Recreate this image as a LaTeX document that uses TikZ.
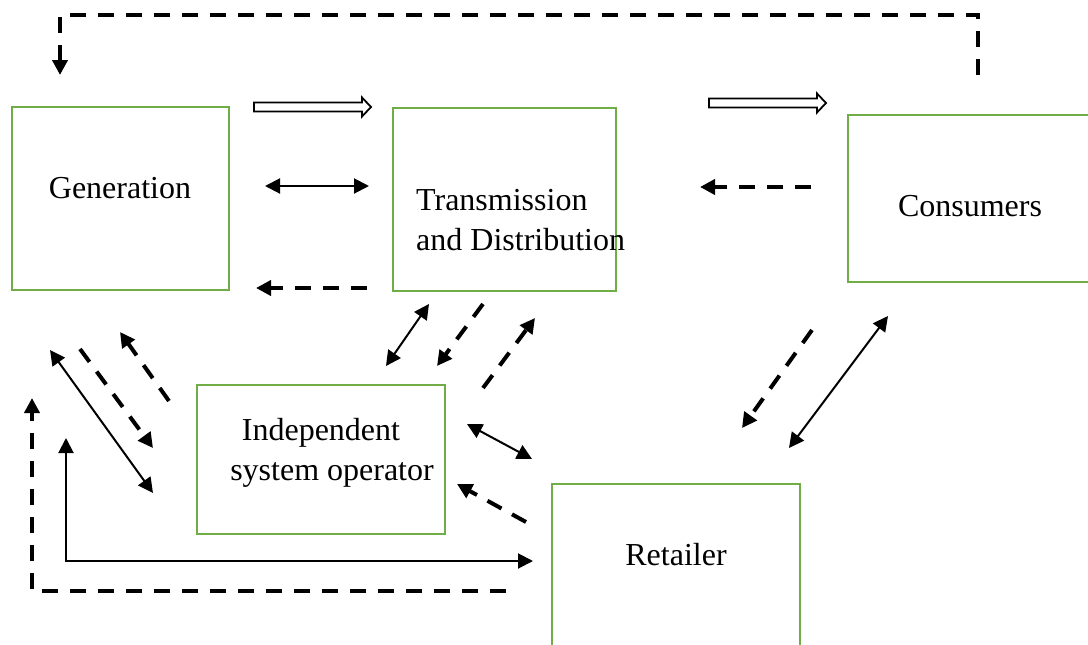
\documentclass[tikz,border=0pt]{standalone}
\usepackage{fontspec}
\setmainfont{Liberation Serif}
\usetikzlibrary{arrows.meta}
\definecolor{boxgreen}{RGB}{112,173,71}
\tikzset{
  unitbox/.style={draw=boxgreen, line width=2.5pt, rectangle, inner sep=0pt},
  lbl/.style={font=\fontsize{32}{40}\selectfont, inner sep=0pt, anchor=base},
  tip/.style={-{Triangle[length=15pt,width=15pt]}},
  twotip/.style={{Triangle[length=15pt,width=15pt]}-{Triangle[length=15pt,width=15pt]}},
  solidflow/.style={line width=2pt, twotip},
  dashflow/.style={line width=4pt, dash pattern=on 16pt off 12pt, tip},
  pics/fatarrow/.style={code={
    \draw[line width=1.8pt, fill=white, line join=miter]
      (0,-4.5) -- (#1-9,-4.5) -- (#1-9,-9.5) -- (#1,0) -- (#1-9,9.5) -- (#1-9,4.5) -- (0,4.5) -- cycle;
  }}
}
\begin{document}
\begin{tikzpicture}[x=1pt,y=-1pt]
\useasboundingbox (0,0) rectangle (1088,645);

% units of the market
\node[unitbox, minimum width=217pt, minimum height=183pt] (gen) at (120.5,198.5) {};
\node[unitbox, minimum width=223pt, minimum height=183pt] (td)  at (504.5,199.5) {};
\node[unitbox, minimum width=252pt, minimum height=167pt] (con) at (974,198.5) {};
\node[unitbox, minimum width=248pt, minimum height=149pt] (iso) at (321,459.5) {};
\node[unitbox, minimum width=248pt, minimum height=176pt] (ret) at (676,572) {};

\node[lbl] (genlbl) at (120,198.5) {Generation};
\node[lbl, anchor=base west] (tdlbl1) at (416,210) {Transmission};
\node[lbl, anchor=base west] (tdlbl2) at (416,250) {and Distribution};
\node[lbl] (conlbl) at (970,216) {Consumers};
\node[lbl] (isolbl1) at (321,440) {Independent};
\node[lbl] (isolbl2) at (332,480) {system operator};
\node[lbl] (retlbl) at (676,565) {Retailer};

% power flow
\coordinate (pf1s) at (254,107);
\coordinate (pf2s) at (709,103);
\pic at (pf1s) {fatarrow=117};
\pic at (pf2s) {fatarrow=117};

% two-way links
\coordinate (a1) at (265,186);  \coordinate (b1) at (369,186);
\coordinate (a2) at (50,350);   \coordinate (b2) at (153,493);
\coordinate (a3) at (429,304);  \coordinate (b3) at (386,366);
\coordinate (a4) at (467,424);  \coordinate (b4) at (532,459);
\coordinate (a5) at (888,316);  \coordinate (b5) at (789,448);
\draw[solidflow] (a1) -- (b1);
\draw[solidflow] (a2) -- (b2);
\draw[solidflow] (a3) -- (b3);
\draw[solidflow] (a4) -- (b4);
\draw[solidflow] (a5) -- (b5);

% generation <-> retailer
\coordinate (gr1) at (66,438);
\coordinate (gr2) at (66,561);
\coordinate (gr3) at (533,561);
\draw[solidflow] (gr1) -- (gr2) -- (gr3);

% payment flows
\coordinate (d1s) at (367,288); \coordinate (d1e) at (256,288);
\coordinate (d2s) at (811,187); \coordinate (d2e) at (700,187);
\coordinate (d3s) at (80,349);  \coordinate (d3e) at (153,448);
\coordinate (d4s) at (169,401); \coordinate (d4e) at (120,332);
\coordinate (d5s) at (483,304); \coordinate (d5e) at (437,366);
\coordinate (d6s) at (483,388); \coordinate (d6e) at (535,318);
\coordinate (d7s) at (526,522); \coordinate (d7e) at (457,484);
\coordinate (d8s) at (812,330); \coordinate (d8e) at (742,428);
\draw[dashflow] (d1s) -- (d1e);
\draw[dashflow] (d2s) -- (d2e);
\draw[dashflow] (d3s) -- (d3e);
\draw[dashflow] (d4s) -- (d4e);
\draw[dashflow] (d5s) -- (d5e);
\draw[dashflow] (d6s) -- (d6e);
\draw[dashflow] (d7s) -- (d7e);
\draw[dashflow] (d8s) -- (d8e);

% consumers back to generation
\coordinate (fb1) at (978,75);
\coordinate (fb2) at (978,15);
\coordinate (fb3) at (60,15);
\coordinate (fb4) at (60,75);
\draw[dashflow] (fb1) -- (fb2) -- (fb3) -- (fb4);

% retailer back to generation
\coordinate (rb1) at (506,591);
\coordinate (rb2) at (32,591);
\coordinate (rb3) at (32,398);
\draw[dashflow] (rb1) -- (rb2) -- (rb3);
\end{tikzpicture}
\end{document}
